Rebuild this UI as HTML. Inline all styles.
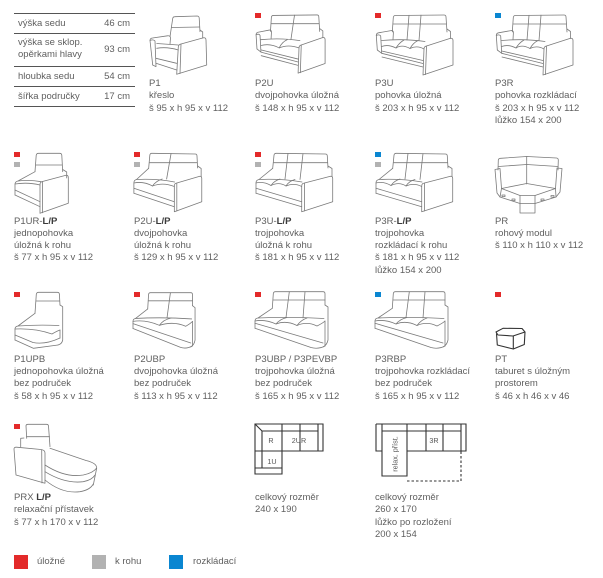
<!DOCTYPE html>
<html><head><meta charset="utf-8">
<style>
html,body{margin:0;padding:0;background:#fff;}
body{width:603px;height:578px;position:relative;overflow:hidden;font-family:"Liberation Sans",Arial,sans-serif;color:#5f5f5f;font-size:9.5px;}
.t{position:absolute;line-height:12.3px;white-space:nowrap;}
.t b{color:#3a3a3a;}
.hl{position:absolute;left:14px;width:121px;height:1px;background:#555;}
.tl{position:absolute;left:18px;line-height:12.3px;white-space:nowrap;}
.tr{position:absolute;right:473px;line-height:12.3px;white-space:nowrap;text-align:right;}
.m{position:absolute;width:6px;height:5px;}
.r{background:#e32a2a}.g{background:#b2b2b2}.bl{background:#0a86d1}
.lg{position:absolute;top:555px;width:14px;height:14px;}
svg{position:absolute;left:0;top:0;}
svg path{vector-effect:non-scaling-stroke;}
</style></head>
<body>
<svg width="603" height="578" viewBox="0 0 603 578">
<defs>
<g id="sA">
<path d="M18.3,19 L19.3,4.5 Q19.5,2.5 21.5,2.5 L70,2 Q72,2 72,4 L73,19"/>
<path d="M19.2,11 L72.4,11"/>
<path d="M73,16 L76.5,18.5 L76.5,25.5"/>
<path d="M3.3,37 L2.3,22.5 Q2.3,20.2 4.5,19.8 L17,17.6 Q19.4,17.3 19.4,19.6 L19,26.5"/>
<path d="M2.3,22.5 Q5.5,21 6.7,23 L7.7,40.3 L3.3,37"/>
<path d="M7.5,27.5 Q30,25.5 51,28.5"/>
<path d="M7.7,38 L49,47.5"/>
<path d="M7.7,40.3 L49,50.5"/>
<path d="M8,44 L49,54"/>
<path d="M49,62 L50,36 Q50,33.5 52.5,33 L76.5,25.3 Q79,25 79,27.5 L79,52 Z"/>
<path d="M52.5,33 L51.5,61.6"/>
</g>
<g id="sB">
<path d="M17.7,16.3 L19,3.3 Q19.2,1.3 21.2,1.3 L70.3,2 Q72.3,2 72.3,4 L73,16"/>
<path d="M18.9,10.7 L72.5,10.7"/>
<path d="M73,14 L77,16.5 L77,24.5"/>
<path d="M1,41.3 L1,31 Q1,28 4,27.5 L17.7,16.3"/>
<path d="M4,27.5 Q26,26.5 47,30"/>
<path d="M1,36.3 L46.7,49.7"/>
<path d="M1,41.3 L46.7,54.7"/>
<path d="M46.7,59.7 L46.7,34 Q46.7,31.3 49.5,31 L75.5,24.3 Q77.7,24 77.7,26.5 L77.7,49.7 Z"/>
<path d="M49.5,31 L49.5,59"/>
</g>
<g id="sC">
<path d="M17.3,17.3 L18.3,2.7 Q18.5,0.7 20.5,0.7 L68,0.7 Q70,0.7 70,2.7 L70,14"/>
<path d="M18.2,9 L70,9"/>
<path d="M70,14 L73,16 L73,49 Q72,54 68,56"/>
<path d="M0,37.3 L0,30 Q0,27.3 3,27 L17.3,17.3"/>
<path d="M3,27 Q35,25.5 69,27.5"/>
<path d="M0,32.3 L68,52"/>
<path d="M0,37.3 L56,56.5 Q63,58.5 70,55"/>
<path d="M70,30 L70,55"/>
</g>
</defs>

<g fill="none" stroke="#7a7a7a" stroke-width="0.8" stroke-linejoin="round" stroke-linecap="round">
<!-- P1 -->
<path d="M170,36.7 L172.7,18.5 Q173,16.7 175,16.7 L197,16 Q199,16 199.2,18 L200,31.7"/>
<path d="M171.5,27.5 L199.6,27"/>
<path d="M200,30 L202.7,32 L202.7,38"/>
<path d="M152.7,65 L150,40.5 Q150,38.3 152.5,38 L167.5,35.8 Q170.5,35.5 170.5,38 L170,44"/>
<path d="M150,40.5 Q153.5,39 155,41 L156,66.7 L152.7,65"/>
<path d="M156.7,43.5 L178.3,45"/>
<path d="M156.7,48.3 Q167,46.5 178.3,50"/>
<path d="M156,58.3 L176.7,63.3"/>
<path d="M156,63.3 L176.7,70"/>
<path d="M176.7,74.3 L178.3,47 Q178.5,44.5 181,44 L203.5,37.8 Q206,37.5 206,40 L206.7,65 Z"/>
<path d="M181,44 L180,73.5"/>

<!-- P2U -->
<g transform="translate(254,13) scale(0.9,0.97)"><use href="#sA"/>
<path d="M45,2.2 L41,27.5"/><path d="M7.7,33.5 Q18,31 28,36 Q38,32 50,36"/><path d="M28,36 Q31,30 37,27.5"/></g>
<!-- P3U -->
<g transform="translate(374,13)"><use href="#sA"/>
<path d="M35,2.3 L33,27"/><path d="M47,2.2 L45,27.5"/><path d="M7.7,33.5 Q14,31 22,35 Q28,31 36,35.5 Q43,32 50,36"/><path d="M22,35 Q25,30 30,27"/><path d="M36,35.5 Q39,30 44,27.5"/></g>
<!-- P3R -->
<g transform="translate(494,13)"><use href="#sA"/>
<path d="M35,2.3 L33,27"/><path d="M47,2.2 L45,27.5"/><path d="M7.7,33.5 Q14,31 22,35 Q28,31 36,35.5 Q43,32 50,36"/><path d="M22,35 Q25,30 30,27"/><path d="M36,35.5 Q39,30 44,27.5"/></g>

<!-- P1UR -->
<path d="M35,171.7 L36.2,155.3 Q36.5,153.3 38.5,153.3 L59.7,153.3 Q61.7,153.3 61.8,155.3 L62.7,171.7"/>
<path d="M36,165 L62.2,165"/>
<path d="M62.7,169.5 L66.7,172 L66.7,178"/>
<path d="M15,195 L15,184.5 Q15,181.5 18,181 L35,171.7"/>
<path d="M18,181 Q30,179.5 41,181.7"/>
<path d="M15,184 Q28,182 40,185"/>
<path d="M15,190 L40,201.7"/>
<path d="M15,195 L40,206.7"/>
<path d="M40,213.3 L40,184.5 Q40,182 42.5,181.5 L66,175.3 Q68.3,175 68.3,177.5 L68.3,203.3 Z"/>
<path d="M42.5,181.5 L42.5,212.8"/>
<!-- P2U-L/P -->
<g transform="translate(133,152) scale(0.885,1)"><use href="#sB"/>
<path d="M43,1.5 L38,27"/><path d="M1,31 Q12,29 22,34 Q34,30 46.7,34.5"/><path d="M22,34 Q26,29 33,27"/></g>
<!-- P3U-L/P -->
<g transform="translate(255,152)"><use href="#sB"/>
<path d="M33,1.4 L30,27"/><path d="M48,1.6 L45,27.5"/><path d="M1,31 Q8,29 16,33.5 Q24,29.5 31,34 Q39,30.5 46.7,34.5"/><path d="M16,33.5 Q19,29 25,27"/><path d="M31,34 Q34,29 40,27.5"/></g>
<!-- P3R-L/P -->
<g transform="translate(375,152)"><use href="#sB"/>
<path d="M33,1.4 L30,27"/><path d="M48,1.6 L45,27.5"/><path d="M1,31 Q8,29 16,33.5 Q24,29.5 31,34 Q39,30.5 46.7,34.5"/><path d="M16,33.5 Q19,29 25,27"/><path d="M31,34 Q34,29 40,27.5"/></g>
<!-- PR -->
<path d="M498,170 L498.3,160 Q498.5,158.5 500.5,158.3 L526.7,156.5 L556.5,158 Q558.3,158.2 558.3,160 L558,170"/>
<path d="M526.7,156.5 L526.7,184"/>
<path d="M498.4,166.5 L526.7,164.5 L558.2,166.5"/>
<path d="M495,169.5 L500,168.5 L501.5,188.5 L500,197 L497,193 Z"/>
<path d="M562,168.5 L557,168 L555.5,188.5 L556,197 L560,192 Z"/>
<path d="M501.5,188.5 L526.7,183.5 L555.5,188.5 L535,195.5 L520,195.5 Z"/>
<path d="M500,197 L520,203.5"/>
<path d="M520,195.5 L520,213 L535,213 L535,195.5"/>
<path d="M520,203.5 L535,203.5"/>
<path d="M535,203.5 L556,197"/>
<rect x="502" y="195" width="3" height="1.6"/>
<rect x="512" y="199" width="3" height="1.6"/>
<rect x="541" y="199" width="3" height="1.6"/>
<rect x="551" y="195.5" width="3" height="1.6"/>

<!-- P1UPB -->
<path d="M35,313.3 L36.3,294.3 Q36.6,292.3 38.6,292.3 L57.3,292.3 Q59.3,292.3 59.4,294.3 L60,305"/>
<path d="M36.2,301 L59.6,301"/>
<path d="M60,305 L62.7,306.7 L62.7,340 Q62,344 58,345"/>
<path d="M15,340 L15,329 Q15,326.5 18,326 L35,313.3"/>
<path d="M18,326 Q38,324.5 59,325.5"/>
<path d="M15,329 Q35,328 52,334 Q57,331 60,330"/>
<path d="M15,335 L33,342.5 Q45,345 60,338"/>
<path d="M15,340 L33.3,348.3 L58,345"/>
<path d="M60,330 L60,338"/>
<!-- P2UBP -->
<g transform="translate(133,292) scale(0.85,0.98)"><use href="#sC"/>
<path d="M44,0.8 L40,26.5"/><path d="M0,30 Q15,28 31,34 Q48,29.5 62,35 Q68,32 70,30"/><path d="M31,34 Q36,28 45,26.5"/></g>
<!-- P3UBP -->
<g transform="translate(255,291)"><use href="#sC"/>
<path d="M34.3,0.8 L31,26.5"/><path d="M50,0.8 L48,27"/><path d="M0,30 Q10,28 21,33 Q31,29 42,34.5 Q52,30 62,35 Q68,32 70,30"/><path d="M21,33 Q25,28 32,26.5"/><path d="M42,34.5 Q46,29 52,27"/></g>
<!-- P3RBP -->
<g transform="translate(375,291)"><use href="#sC"/>
<path d="M34.3,0.8 L31,26.5"/><path d="M50,0.8 L48,27"/><path d="M0,30 Q10,28 21,33 Q31,29 42,34.5 Q52,30 62,35 Q68,32 70,30"/><path d="M21,33 Q25,28 32,26.5"/><path d="M42,34.5 Q46,29 52,27"/></g>

<!-- PRX -->
<path d="M26.7,438.3 L26,426 Q26,424.3 28,424.3 L46.5,424.3 Q48.3,424.3 48.5,426 L50,446.7"/>
<path d="M26.5,436.7 L49.5,436.7"/>
<path d="M24,438 L20.7,438.3 L20.7,446.7"/>
<path d="M16,475 L14,449 Q14,447 16.5,447.2 L41,449.5 Q45,450 45,453 L45,483.3 Z"/>
<path d="M41.7,450 L42,483"/>
<path d="M50,448.3 L86,460.5 Q96.7,463 96.7,468 L93.3,485"/>
<path d="M45,465 Q65,478 83.3,475 Q93,473 96.7,468"/>
<path d="M45,471.7 Q65,484 83.3,481.7 Q92,480 95,475"/>
<path d="M45,480 Q62,494 80,491.7 Q90,490 93.3,484"/>
</g>

<!-- PT -->
<g fill="none" stroke="#333" stroke-width="1.1" stroke-linejoin="round">
<path d="M496,332 L503,328.3 L522,328.5 L525,332 L513,336 L498,335 Z"/>
<path d="M496.5,333.5 L497.3,345 L513.3,349 L513.3,336"/>
<path d="M513.3,349 L524.3,344.5 L525,332"/>
</g>

<!-- plans -->
<g fill="none" stroke="#333" stroke-width="1.1">
<path d="M255,424 L323,424 L323,451 L282,451 L282,474 L255,474 Z"/>
<path d="M255,424 L262,431 L318,431"/>
<path d="M262,431 L262,468 L255,468 M262,468 L282,468"/>
<path d="M318,424 L318,451 M300,424 L300,451 M282,424 L282,451 M255,451 L282,451"/>
<path d="M376,424 L466,424 L466,451 L407,451 M376,424 L376,451 L382,451"/>
<path d="M382,424 L382,476 L407,476 L407,424"/>
<path d="M382,431 L461,431 M426,424 L426,451 M443,424 L443,451 M461,424 L461,451"/>
<path d="M407,481 L461,481 L461,451" stroke-dasharray="2.5,2"/>
</g>
<g font-family="Liberation Sans, Arial, sans-serif" font-size="7.2" fill="#555" text-anchor="middle">
<text x="271" y="443">R</text>
<text x="299" y="443">2UR</text>
<text x="272" y="464">1U</text>
<text x="434" y="443">3R</text>
<text transform="translate(397.5,454) rotate(-90)">relax. příst.</text>
</g>
</svg>

<!-- table -->
<div class="hl" style="top:13px"></div>
<div class="hl" style="top:33px"></div>
<div class="hl" style="top:66px"></div>
<div class="hl" style="top:86px"></div>
<div class="hl" style="top:106px"></div>
<div class="tl" style="top:17.8px">výška sedu</div>
<div class="tr" style="top:17.8px">46 cm</div>
<div class="tl" style="top:37.2px">výška se sklop.<br>opěrkami hlavy</div>
<div class="tr" style="top:43.6px">93 cm</div>
<div class="tl" style="top:70.5px">hloubka sedu</div>
<div class="tr" style="top:70.5px">54 cm</div>
<div class="tl" style="top:91.1px">šířka područky</div>
<div class="tr" style="top:91.1px">17 cm</div>

<!-- markers -->
<div class="m r" style="left:255px;top:13px"></div>
<div class="m r" style="left:375px;top:13px"></div>
<div class="m bl" style="left:495px;top:13px"></div>

<div class="m r" style="left:14px;top:152px"></div><div class="m g" style="left:14px;top:162px"></div>
<div class="m r" style="left:134px;top:152px"></div><div class="m g" style="left:134px;top:162px"></div>
<div class="m r" style="left:255px;top:152px"></div><div class="m g" style="left:255px;top:162px"></div>
<div class="m bl" style="left:375px;top:152px"></div><div class="m g" style="left:375px;top:162px"></div>

<div class="m r" style="left:14px;top:292px"></div>
<div class="m r" style="left:134px;top:292px"></div>
<div class="m r" style="left:255px;top:292px"></div>
<div class="m bl" style="left:375px;top:292px"></div>
<div class="m r" style="left:495px;top:292px"></div>

<div class="m r" style="left:14px;top:424px"></div>

<!-- row 1 text -->
<div class="t" style="left:149px;top:78.1px">P1<br>křeslo<br>š 95 x h 95 x v 112</div>
<div class="t" style="left:255px;top:78.1px">P2U<br>dvojpohovka úložná<br>š 148 x h 95 x v 112</div>
<div class="t" style="left:375px;top:78.1px">P3U<br>pohovka úložná<br>š 203 x h 95 x v 112</div>
<div class="t" style="left:495px;top:78.1px">P3R<br>pohovka rozkládací<br>š 203 x h 95 x v 112<br>lůžko 154 x 200</div>

<!-- row 2 text -->
<div class="t" style="left:14px;top:215.5px">P1UR-<b>L/P</b><br>jednopohovka<br>úložná k rohu<br>š 77 x h 95 x v 112</div>
<div class="t" style="left:134px;top:215.5px">P2U-<b>L/P</b><br>dvojpohovka<br>úložná k rohu<br>š 129 x h 95 x v 112</div>
<div class="t" style="left:255px;top:215.5px">P3U-<b>L/P</b><br>trojpohovka<br>úložná k rohu<br>š 181 x h 95 x v 112</div>
<div class="t" style="left:375px;top:215.5px">P3R-<b>L/P</b><br>trojpohovka<br>rozkládací k rohu<br>š 181 x h 95 x v 112<br>lůžko 154 x 200</div>
<div class="t" style="left:495px;top:215.5px">PR<br>rohový modul<br>š 110 x h 110 x v 112</div>

<!-- row 3 text -->
<div class="t" style="left:14px;top:353.8px">P1UPB<br>jednopohovka úložná<br>bez područek<br>š 58 x h 95 x v 112</div>
<div class="t" style="left:134px;top:353.8px">P2UBP<br>dvojpohovka úložná<br>bez područek<br>š 113 x h 95 x v 112</div>
<div class="t" style="left:255px;top:353.8px">P3UBP / P3PEVBP<br>trojpohovka úložná<br>bez područek<br>š 165 x h 95 x v 112</div>
<div class="t" style="left:375px;top:353.8px">P3RBP<br>trojpohovka rozkládací<br>bez područek<br>š 165 x h 95 x v 112</div>
<div class="t" style="left:495px;top:353.8px">PT<br>taburet s úložným<br>prostorem<br>š 46 x h 46 x v 46</div>

<!-- row 4 text -->
<div class="t" style="left:14px;top:492.1px">PRX <b>L/P</b><br>relaxační přístavek<br>š 77 x h 170 x v 112</div>
<div class="t" style="left:255px;top:492.1px">celkový rozměr<br>240 x 190</div>
<div class="t" style="left:375px;top:492.1px">celkový rozměr<br>260 x 170<br>lůžko po rozložení<br>200 x 154</div>

<!-- legend -->
<div class="lg r" style="left:14px"></div>
<div class="t" style="left:37px;top:556px">úložné</div>
<div class="lg g" style="left:92px"></div>
<div class="t" style="left:115px;top:556px">k rohu</div>
<div class="lg bl" style="left:169px"></div>
<div class="t" style="left:193px;top:556px">rozkládací</div>
</body></html>
